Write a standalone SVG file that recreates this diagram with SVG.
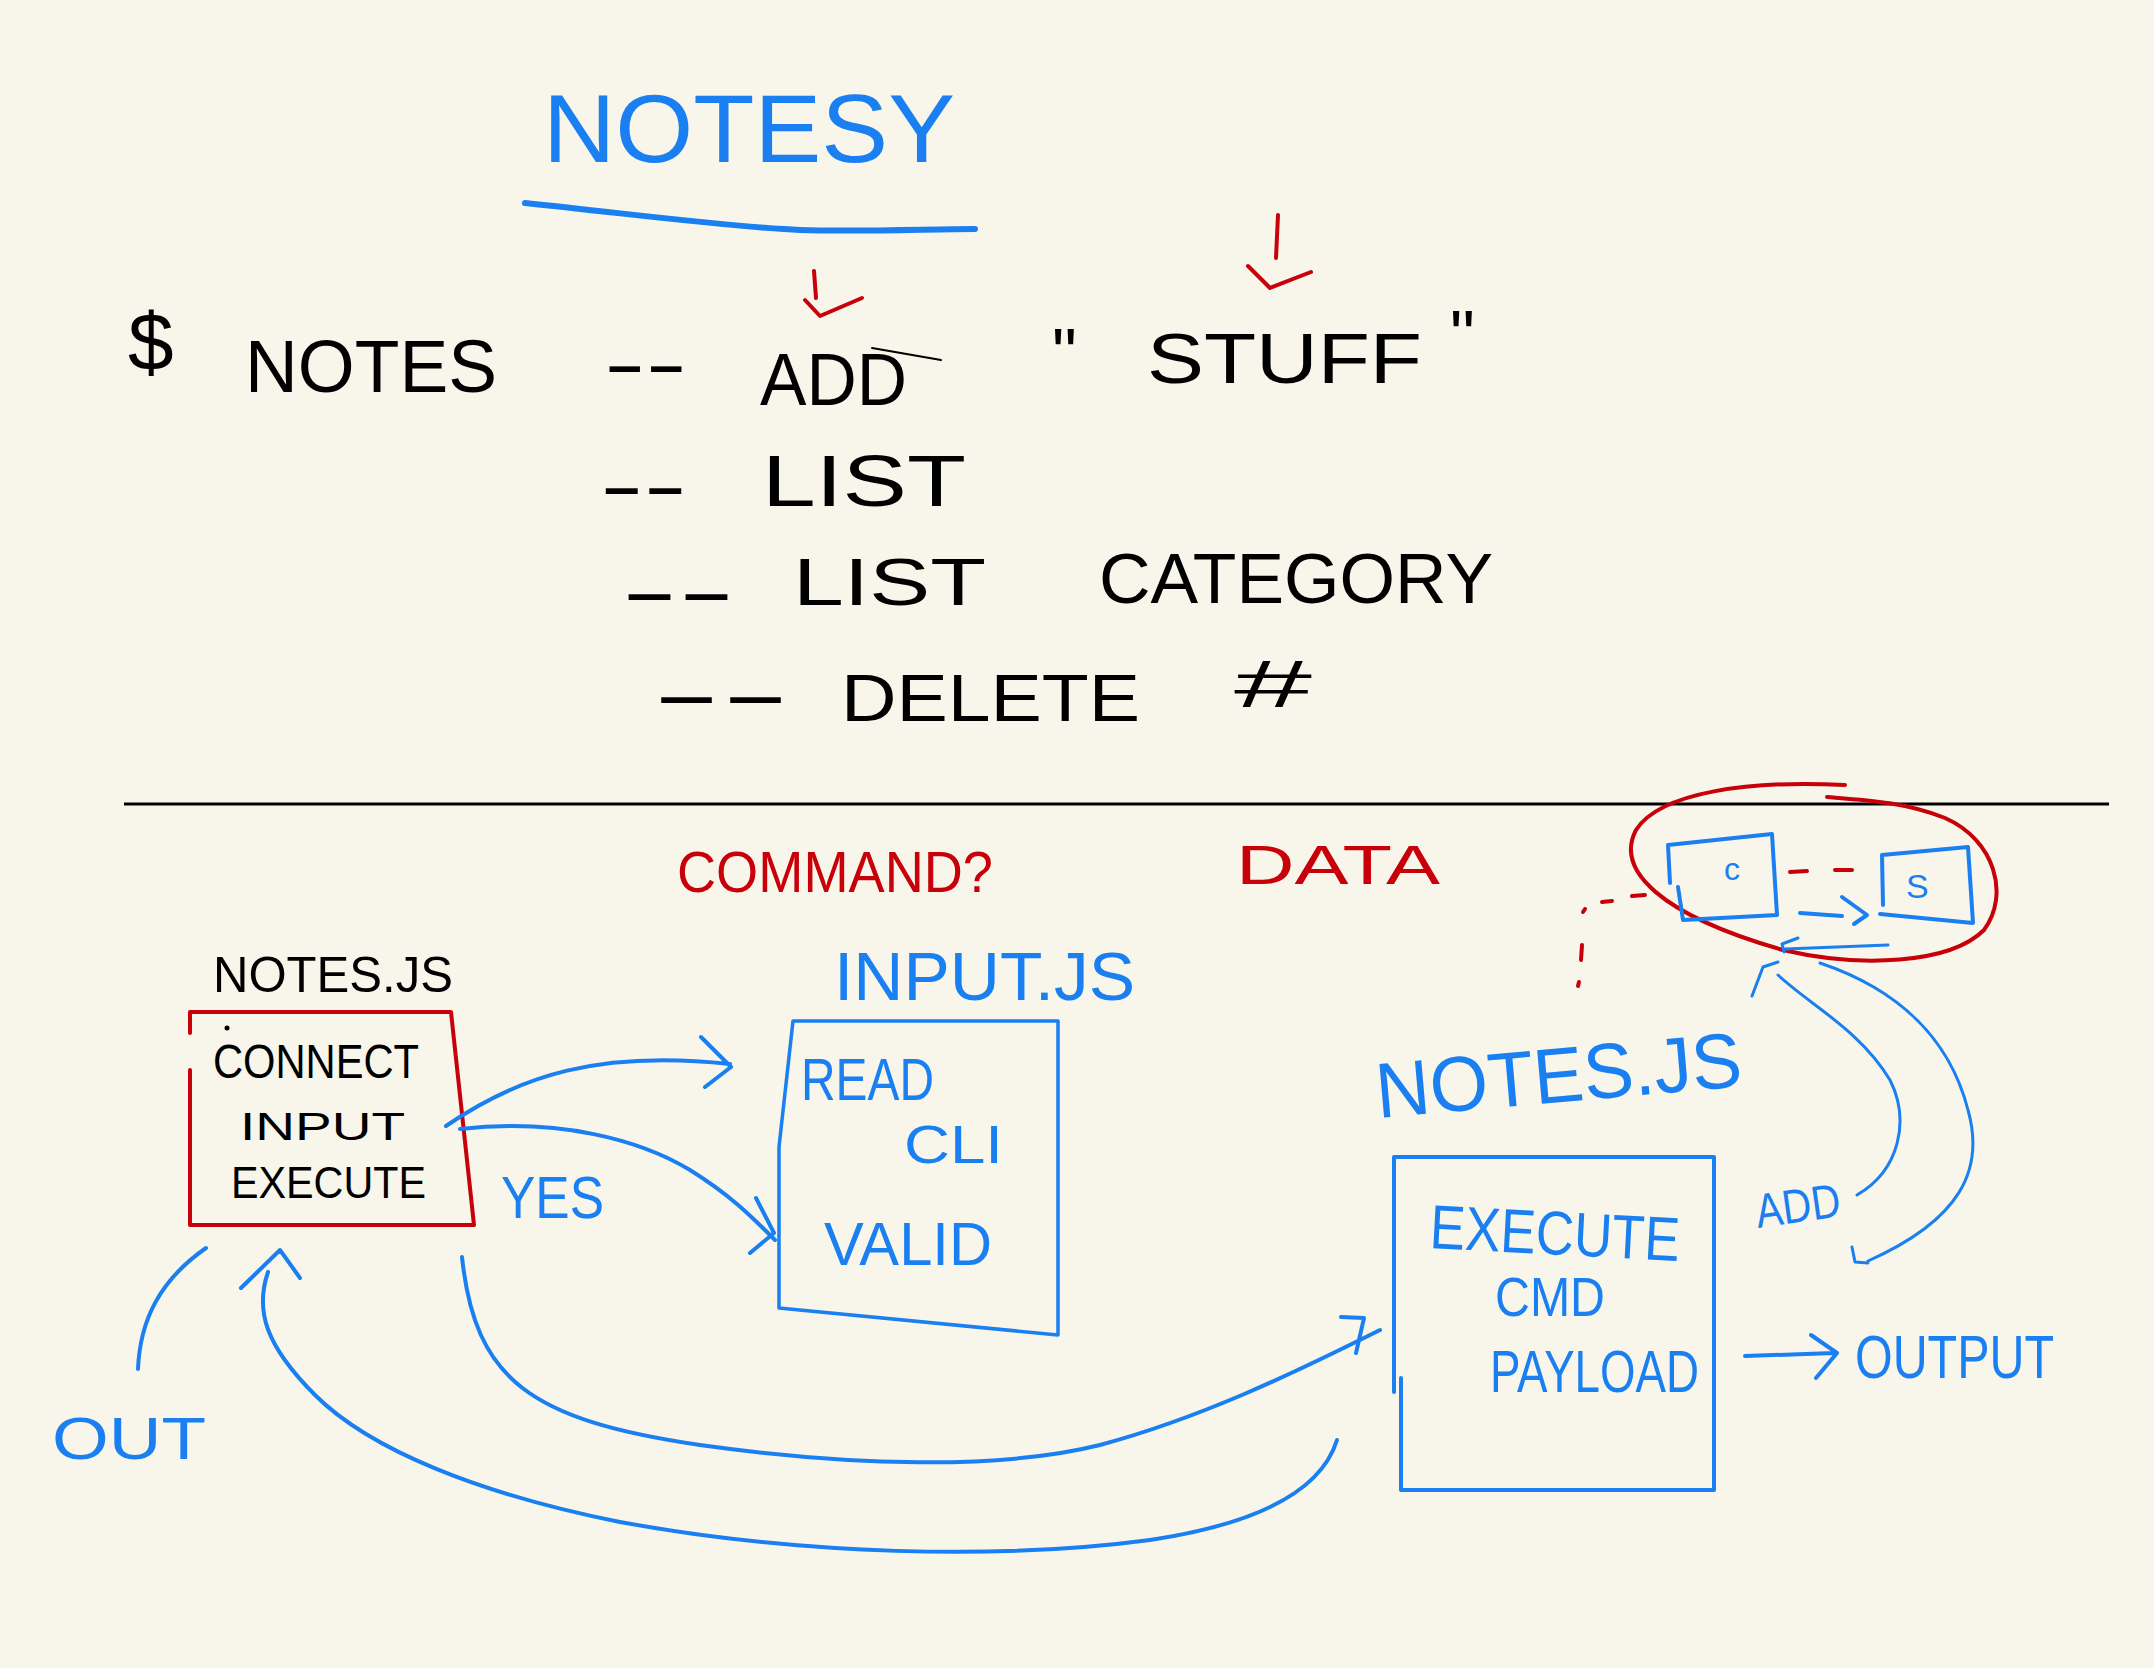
<svg xmlns="http://www.w3.org/2000/svg" width="2154" height="1668" viewBox="0 0 2154 1668">
<style>
.bg{fill:#f8f6eb}
.k{font-family:"Liberation Sans","DejaVu Sans",sans-serif;fill:#000}
.b{font-family:"Liberation Sans","DejaVu Sans",sans-serif;fill:#1a7ff0}
.r{font-family:"Liberation Sans","DejaVu Sans",sans-serif;fill:#c8000a}
.sb{fill:none;stroke:#1a7ff0;stroke-width:4;stroke-linecap:round;stroke-linejoin:round}
.sbt{fill:none;stroke:#1a7ff0;stroke-width:3;stroke-linecap:round;stroke-linejoin:round}
.sr{fill:none;stroke:#c8000a;stroke-width:4;stroke-linecap:round;stroke-linejoin:round}
.sk{fill:none;stroke:#000;stroke-width:3;stroke-linecap:round}
</style>
<rect class="bg" x="0" y="0" width="2154" height="1668"/>

<g id="title">
  <text class="b" x="543" y="162" font-size="96" textLength="412" lengthAdjust="spacingAndGlyphs">NOTESY</text>
  <path class="sb" style="stroke-width:6" d="M525,203 C640,215 740,228 800,230 C860,232 930,229 975,229"/>
</g>

<g id="cli-usage">
  <text class="k" x="128" y="370" font-size="82">$</text>
  <text class="k" x="245" y="392" font-size="74" textLength="252" lengthAdjust="spacingAndGlyphs">NOTES</text>
  <text class="k" x="604" y="388" font-size="72" textLength="83" lengthAdjust="spacingAndGlyphs">--</text>
  <text class="k" x="760" y="405" font-size="74" textLength="147" lengthAdjust="spacingAndGlyphs">ADD</text>
  <path class="sk" style="stroke-width:2" d="M872,348 L941,360"/>
  <text class="k" x="1052" y="378" font-size="70">"</text>
  <text class="k" x="1147" y="383" font-size="70" textLength="275" lengthAdjust="spacingAndGlyphs">STUFF</text>
  <text class="k" x="1450" y="360" font-size="70">"</text>

  <text class="k" x="600" y="510" font-size="72" textLength="87" lengthAdjust="spacingAndGlyphs">--</text>
  <text class="k" x="762" y="506" font-size="72" textLength="204" lengthAdjust="spacingAndGlyphs">LIST</text>

  <text class="k" x="621" y="616" font-size="72" textLength="114" lengthAdjust="spacingAndGlyphs">--</text>
  <text class="k" x="793" y="605" font-size="66" textLength="193" lengthAdjust="spacingAndGlyphs">LIST</text>
  <text class="k" x="1099" y="603" font-size="70" textLength="394" lengthAdjust="spacingAndGlyphs">CATEGORY</text>

  <text class="k" x="652" y="719" font-size="72" textLength="138" lengthAdjust="spacingAndGlyphs">--</text>
  <text class="k" x="841" y="721" font-size="66" textLength="299" lengthAdjust="spacingAndGlyphs">DELETE</text>
  <text class="k" x="1234" y="707" font-size="66" textLength="78" lengthAdjust="spacingAndGlyphs">#</text>
</g>

<g id="red-markers">
  <path class="sr" d="M814,271 L816,298 M805,300 L820,316 L862,298"/>
  <path class="sr" d="M1278,215 L1276,258 M1248,266 L1270,288 L1311,272"/>
</g>

<path id="separator" d="M124,804 L2109,804" stroke="#000" stroke-width="3" fill="none"/>

<g id="section-labels">
  <text class="r" x="677" y="892" font-size="58" textLength="316" lengthAdjust="spacingAndGlyphs">COMMAND?</text>
  <text class="r" x="1236" y="884" font-size="56" textLength="204" lengthAdjust="spacingAndGlyphs">DATA</text>
</g>

<g id="node-notes-left">
  <text class="k" x="213" y="992" font-size="50" textLength="240" lengthAdjust="spacingAndGlyphs">NOTES.JS</text>
  <path class="sr" d="M190,1033 L190,1012 L451,1012 L474,1225 L190,1225 L190,1070"/>
  <circle cx="227" cy="1028" r="2.5" fill="#000"/>
  <text class="k" x="213" y="1078" font-size="48" textLength="206" lengthAdjust="spacingAndGlyphs">CONNECT</text>
  <text class="k" x="240" y="1140" font-size="38" textLength="165" lengthAdjust="spacingAndGlyphs">INPUT</text>
  <text class="k" x="231" y="1198" font-size="44" textLength="195" lengthAdjust="spacingAndGlyphs">EXECUTE</text>
</g>

<g id="node-input">
  <text class="b" x="834" y="1000" font-size="68" textLength="301" lengthAdjust="spacingAndGlyphs">INPUT.JS</text>
  <path class="sbt" style="stroke-width:3.5" d="M793,1021 L1058,1021 L1058,1335 L779,1308 L779,1147 Z"/>
  <text class="b" x="801" y="1100" font-size="60" textLength="133" lengthAdjust="spacingAndGlyphs">READ</text>
  <text class="b" x="904" y="1163" font-size="54" textLength="99" lengthAdjust="spacingAndGlyphs">CLI</text>
  <text class="b" x="824" y="1265" font-size="62" textLength="168" lengthAdjust="spacingAndGlyphs">VALID</text>
</g>

<g id="node-notes-right">
  <text class="b" x="1378" y="1118" font-size="78" textLength="367" lengthAdjust="spacingAndGlyphs" transform="rotate(-5 1378 1118)">NOTES.JS</text>
  <path class="sb" d="M1401,1378 L1401,1490 L1714,1490 L1714,1157 L1394,1157 L1394,1392"/>
  <text class="b" x="1429" y="1248" font-size="62" textLength="250" lengthAdjust="spacingAndGlyphs" transform="rotate(3 1429 1248)">EXECUTE</text>
  <text class="b" x="1495" y="1316" font-size="56" textLength="110" lengthAdjust="spacingAndGlyphs">CMD</text>
  <text class="b" x="1490" y="1392" font-size="60" textLength="209" lengthAdjust="spacingAndGlyphs">PAYLOAD</text>
</g>

<g id="node-data">
  <path class="sr" d="M1845,785 C1750,780 1660,792 1636,830 C1615,870 1660,915 1783,950 C1860,968 1950,964 1984,930 C2010,895 1995,840 1945,818 C1905,802 1865,800 1827,797"/>
  <g id="node-data-c">
    <path class="sb" d="M1670,883 L1668,845 L1772,834 L1777,915 L1683,920 L1678,887"/>
    <text class="b" x="1724" y="880" font-size="32">c</text>
  </g>
  <g id="node-data-s">
    <path class="sb" d="M1883,905 L1882,855 L1968,847 L1973,923 L1880,914"/>
    <text class="b" x="1906" y="898" font-size="34">S</text>
  </g>
</g>

<g id="connectors">
  <path class="sr" d="M1790,872 L1807,871 M1835,870 L1852,870"/>
  <path class="sr" d="M1632,896 L1645,895 M1602,902 L1612,901 M1583,912 L1585,909 M1582,945 L1581,960 M1579,982 L1578,986"/>
  <path class="sb" d="M1800,913 L1842,916 M1842,897 L1867,915 L1854,924"/>
  <path class="sbt" d="M1888,945 L1785,949 M1798,938 L1782,944 L1784,952"/>
  <path class="sbt" d="M1857,1195 C1900,1170 1910,1120 1890,1080 C1860,1030 1810,1005 1778,975 M1752,996 L1763,967 L1778,962"/>
  <path class="sbt" d="M1820,963 C1900,990 1950,1040 1968,1110 C1985,1170 1960,1220 1868,1261 M1852,1247 L1855,1262 L1868,1263"/>
  <path class="sb" d="M446,1126 C520,1075 600,1050 730,1064 M701,1037 L731,1067 L705,1087"/>
  <path class="sb" d="M460,1129 C560,1118 640,1140 690,1170 C730,1195 750,1215 775,1240 M756,1198 L774,1233 L750,1253"/>
  <path class="sb" d="M462,1257 C475,1380 530,1420 700,1445 C850,1466 1000,1470 1100,1445 C1200,1418 1290,1375 1380,1330 M1341,1317 L1364,1318 L1356,1353"/>
  <path class="sb" d="M1337,1440 C1320,1495 1250,1525 1150,1540 C1000,1560 800,1555 620,1522 C480,1494 370,1450 315,1395 C265,1345 255,1310 268,1272 M241,1288 L280,1250 L300,1278"/>
  <path class="sb" d="M138,1369 C140,1320 160,1280 206,1248"/>
  <path class="sb" d="M1745,1356 L1834,1353 M1811,1335 L1837,1353 L1816,1378"/>
</g>

<g id="labels">
  <text class="b" x="501" y="1218" font-size="60" textLength="103" lengthAdjust="spacingAndGlyphs">YES</text>
  <text class="b" x="1758" y="1228" font-size="48" textLength="85" lengthAdjust="spacingAndGlyphs" transform="rotate(-8 1758 1228)">ADD</text>
  <text class="b" x="1855" y="1378" font-size="62" textLength="199" lengthAdjust="spacingAndGlyphs">OUTPUT</text>
  <text class="b" x="52" y="1459" font-size="60" textLength="154" lengthAdjust="spacingAndGlyphs">OUT</text>
</g>
</svg>
